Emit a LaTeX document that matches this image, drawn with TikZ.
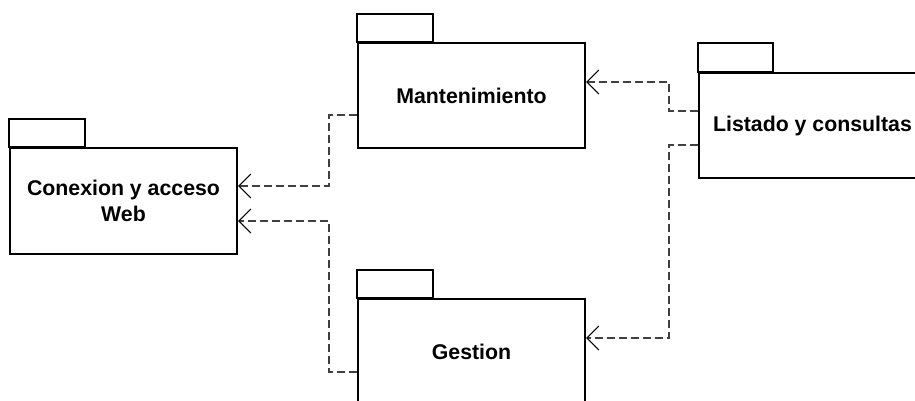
\documentclass[tikz,border=0pt]{standalone}
\usepackage{fontspec}
\setmainfont{Liberation Sans}
\usetikzlibrary{arrows.meta,calc}
\begin{document}
\begin{tikzpicture}[x=1pt,y=-1pt,
  pkg/.style={draw=black,line width=2pt,fill=white,minimum width=227pt,minimum height=105pt,inner sep=0pt,
    align=center,font=\fontsize{21.3}{26}\selectfont\bfseries},
  tab/.style={draw=black,line width=2pt,fill=white},
  dep/.style={draw=black!75,line width=1.4pt,dash pattern=on 8pt off 4pt,
    -{Straight Barb[length=12pt,width=24pt,line width=1.1pt,black]}}]
\useasboundingbox (0,0) rectangle (915,401);
\clip (0,0) rectangle (915,401);
\fill[white] (0,0) rectangle (915,401);
% packages
\node[pkg,minimum height=106pt] (con) at (123.5,201) {Conexion y acceso\\Web};
\node[pkg] (man) at (471.5,95.5) {Mantenimiento};
\node[pkg] (lis) at (812.5,125.5) {Listado y consultas};
\node[pkg] (ges) at (471.5,351.5) {Gestion};
% tabs
\draw[tab] (con.north west) rectangle ++(76,-28);
\draw[tab] (man.north west) rectangle ++(76,-28);
\draw[tab] (lis.north west) rectangle ++(75,-29);
\draw[tab] (ges.north west) rectangle ++(76,-28);
% dependencies
\draw[dep] ([yshift=-19.5pt]man.west) -- ++(-28,0) |- ([yshift=15pt]con.east);
\draw[dep] ([yshift=-20.5pt]ges.west) -- ++(-28,0) |- ([yshift=-20pt]con.east);
\draw[dep] ([yshift=14.5pt]lis.west) -- ++(-29,0) |- ([yshift=13.5pt]man.east);
\draw[dep] ([yshift=-19.5pt]lis.west) -- ++(-29,0) |- ([yshift=13.5pt]ges.east);
\end{tikzpicture}
\end{document}
